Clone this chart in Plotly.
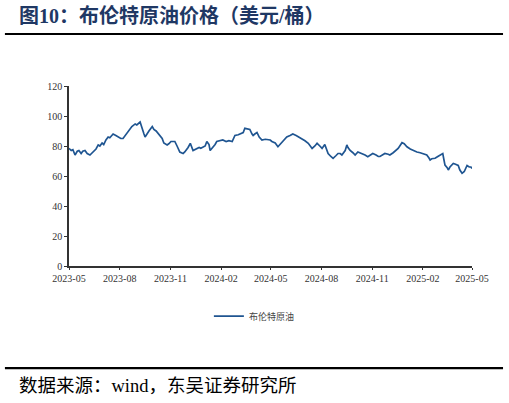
import plotly.graph_objects as go

# 布伦特原油价格（美元/桶），按图读取的近似值
dates = [
    "2023-05-01", "2023-05-05", "2023-05-08", "2023-05-12", "2023-05-16", "2023-05-19",
    "2023-05-23", "2023-05-26", "2023-05-30", "2023-06-03", "2023-06-08", "2023-06-12",
    "2023-06-15", "2023-06-19", "2023-06-23", "2023-06-26", "2023-06-30", "2023-07-03",
    "2023-07-07", "2023-07-11", "2023-07-14", "2023-07-20", "2023-07-25", "2023-07-31",
    "2023-08-03", "2023-08-07", "2023-08-11", "2023-08-14", "2023-08-20", "2023-08-23",
    "2023-08-29", "2023-09-01", "2023-09-07", "2023-09-10", "2023-09-14", "2023-09-16",
    "2023-09-19", "2023-09-23", "2023-09-29", "2023-10-02", "2023-10-06", "2023-10-09",
    "2023-10-13", "2023-10-17", "2023-10-20", "2023-10-26", "2023-10-29", "2023-11-02",
    "2023-11-06", "2023-11-09", "2023-11-13", "2023-11-18", "2023-11-24", "2023-11-27",
    "2023-12-03", "2023-12-07", "2023-12-12", "2023-12-17", "2023-12-23", "2023-12-26",
    "2023-12-30", "2024-01-03", "2024-01-06", "2024-01-10", "2024-01-12", "2024-01-17",
    "2024-01-21", "2024-01-24", "2024-01-30", "2024-02-04", "2024-02-10", "2024-02-15",
    "2024-02-21", "2024-02-24", "2024-02-26", "2024-03-03", "2024-03-06", "2024-03-12",
    "2024-03-15", "2024-03-21", "2024-03-24", "2024-03-28", "2024-03-30", "2024-04-02",
    "2024-04-06", "2024-04-10", "2024-04-15", "2024-04-21", "2024-04-26", "2024-04-30",
    "2024-05-03", "2024-05-09", "2024-05-14", "2024-05-20", "2024-05-25", "2024-05-30",
    "2024-06-05", "2024-06-10", "2024-06-16", "2024-06-21", "2024-06-27", "2024-07-02",
    "2024-07-08", "2024-07-11", "2024-07-15", "2024-07-20", "2024-07-24", "2024-07-29",
    "2024-08-02", "2024-08-07", "2024-08-13", "2024-08-18", "2024-08-22", "2024-08-27",
    "2024-08-31", "2024-09-04", "2024-09-07", "2024-09-13", "2024-09-16", "2024-09-18",
    "2024-09-22", "2024-09-27", "2024-10-01", "2024-10-06", "2024-10-10", "2024-10-15",
    "2024-10-19", "2024-10-24", "2024-10-28", "2024-11-02", "2024-11-08", "2024-11-12",
    "2024-11-15", "2024-11-19", "2024-11-24", "2024-11-30", "2024-12-03", "2024-12-09",
    "2024-12-14", "2024-12-18", "2024-12-21", "2024-12-25", "2024-12-29", "2025-01-03",
    "2025-01-09", "2025-01-14", "2025-01-18", "2025-01-21", "2025-01-27", "2025-01-30",
    "2025-02-04", "2025-02-08", "2025-02-12", "2025-02-14", "2025-02-17", "2025-02-23",
    "2025-02-28", "2025-03-06", "2025-03-09", "2025-03-11", "2025-03-13", "2025-03-17",
    "2025-03-19", "2025-03-22", "2025-03-28", "2025-03-31", "2025-04-06", "2025-04-09",
    "2025-04-13", "2025-04-17", "2025-04-20", "2025-04-22", "2025-04-26", "2025-04-29",
    "2025-05-01",
]
brent = [
    78.4, 77.0, 77.5, 74.0, 76.5, 77.0,
    75.0, 76.5, 77.0, 75.0, 74.0, 75.5,
    77.0, 78.0, 80.7, 80.0, 82.0, 81.0,
    84.0, 86.0, 85.5, 88.0, 87.0, 86.0,
    85.0, 85.0, 87.0, 89.0, 92.0, 93.0,
    94.7, 94.0, 96.0, 92.0, 88.0, 86.0,
    88.0, 90.0, 93.0, 91.0, 90.0, 88.5,
    87.0, 85.0, 82.0, 80.7, 81.5, 83.0,
    83.0, 83.0, 80.0, 76.0, 75.0, 76.0,
    79.0, 81.8, 77.0, 78.0, 79.0, 78.5,
    79.5, 80.0, 83.0, 81.0, 77.0, 79.0,
    81.0, 83.0, 83.5, 84.0, 83.0, 83.5,
    83.0, 85.0, 87.0, 87.5, 88.0, 89.0,
    91.8, 91.0, 91.0, 88.0, 87.0, 88.0,
    89.0, 86.0, 84.0, 84.5, 84.0, 84.0,
    83.0, 82.0, 79.5, 82.0, 84.0, 86.0,
    87.0, 88.0, 87.0, 86.0, 85.0, 83.5,
    81.8, 80.0, 78.4, 80.0, 81.8, 80.0,
    78.4, 81.0, 75.0, 73.0, 71.8, 73.5,
    75.0, 75.0, 74.0, 77.0, 80.7, 79.0,
    77.0, 75.5, 74.0, 76.0, 75.5, 75.0,
    74.0, 72.9, 74.0, 75.0, 74.0, 73.0,
    73.0, 74.0, 75.0, 74.5, 74.0, 75.5,
    77.0, 78.4, 80.0, 82.2, 81.5, 79.5,
    78.0, 77.0, 76.5, 76.0, 75.5, 75.0,
    74.5, 74.0, 72.0, 70.7, 71.5, 71.8,
    73.0, 74.0, 75.0, 71.0, 67.3, 65.5,
    64.0, 66.0, 68.4, 68.0, 67.0, 64.0,
    61.8, 63.0, 66.0, 67.0, 66.0, 66.0,
    65.0,
]

y_ticks = [0, 20, 40, 60, 80, 100, 120]

serif = "Liberation Serif, Noto Sans CJK SC"

fig = go.Figure()
fig.add_trace(go.Scatter(
    x=dates, y=brent, mode="lines", name="布伦特原油",
    line=dict(color="#1F5591", width=1.7),
))

fig.update_layout(
    width=509, height=403, autosize=False,
    margin=dict(l=69, r=37, t=86, b=137),
    plot_bgcolor="white", paper_bgcolor="white",
    showlegend=True,
    legend=dict(
        orientation="h", x=0.46, xanchor="center", y=-0.278, yanchor="middle",
        font=dict(family="Noto Sans CJK SC", size=9, color="#444444"),
        bgcolor="rgba(0,0,0,0)",
    ),
    annotations=[
        dict(text="<b>图10：布伦特原油价格（美元/桶）</b>", xref="paper", yref="paper",
             x=-0.129, y=1.389, xanchor="left", yanchor="middle", showarrow=False,
             font=dict(family=serif, size=20, color="#1F3864")),
        dict(text="数据来源：wind，东吴证券研究所", xref="paper", yref="paper",
             x=-0.129, y=-0.667, xanchor="left", yanchor="middle", showarrow=False,
             font=dict(family=serif, size=18.5, color="black")),
    ],
    shapes=[
        dict(type="line", xref="paper", yref="paper", x0=-0.159, x1=1.077,
             y0=1.289, y1=1.289, line=dict(color="black", width=2.2)),
        dict(type="line", xref="paper", yref="paper", x0=-0.159, x1=1.077,
             y0=-0.567, y1=-0.567, line=dict(color="black", width=2.2)),
    ],
)

fig.update_xaxes(
    type="date", range=["2023-05-01", "2025-05-01"],
    tick0="2023-05-01", dtick="M3", tickformat="%Y-%m",
    showgrid=False, zeroline=False,
    showline=True, linecolor="#333333", linewidth=1.5,
    ticks="outside", ticklen=2, tickcolor="#333333",
    tickfont=dict(family="Liberation Serif", size=10, color="#333333"),
)
fig.update_yaxes(
    range=[0, 120], tickvals=y_ticks,
    showgrid=False, zeroline=False,
    showline=True, linecolor="#333333", linewidth=1.5,
    ticks="outside", ticklen=3, tickcolor="#333333",
    tickfont=dict(family="Liberation Serif", size=10, color="#333333"),
)

# the page body has a default 8px margin; drop it so the figure sits at 0,0
fig.write_html(
    "out.html",
    config={"displayModeBar": False},
    post_script="document.body.style.margin = '0';",
)
